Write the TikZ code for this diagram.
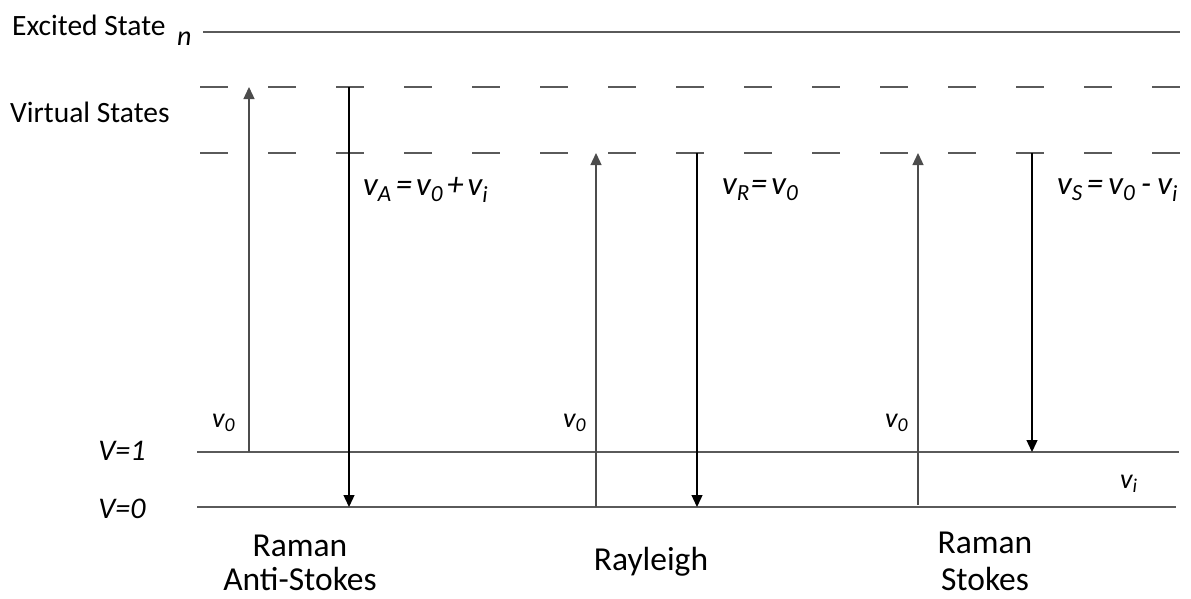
\documentclass[tikz,border=0pt]{standalone}
\usepackage{fontspec}
\setmainfont{Carlito}
\usetikzlibrary{arrows.meta, positioning}
\definecolor{levelGray}{HTML}{5A5A5A}
\colorlet{upGray}{black!70}
\newcommand{\opsp}[1]{\hspace{#1pt}}

\tikzset{
  level/.style={levelGray, line width=1.6pt},
  vlevel/.style={levelGray, line width=1.6pt, dash pattern=on 28pt off 40pt},
  photon/.style={-{Triangle[width=11pt, length=12pt]}, line width=1.3pt},
  lbl/.style={font=\fontsize{29.5}{34}\selectfont, inner sep=0pt},
  bigLbl/.style={font=\fontsize{33.5}{38}\selectfont, inner sep=0pt},
  sym/.style={font=\fontsize{33}{36}\selectfont\itshape, inner sep=0pt},
  symSmall/.style={font=\fontsize{28}{32}\selectfont\itshape, inner sep=0pt}
}

\begin{document}
\begin{tikzpicture}[x=1pt, y=-1pt]
  \useasboundingbox (0,0) rectangle (1191,598);
  % energy levels
  \draw[level]  (203,32)  coordinate (exL)  -- (1180,32)  coordinate (exR);
  \draw[vlevel] (200,87)  coordinate (vtL)  -- (1180,87)  coordinate (vtR);
  \draw[vlevel] (200,153) coordinate (vbL)  -- (1180,153) coordinate (vbR);
  \draw[level]  (197,452) coordinate (oneL) -- (1179,452) coordinate (oneR);
  \draw[level]  (197,507) coordinate (zeroL) -- (1176,507) coordinate (zeroR);
  % level labels
  \node[lbl, anchor=base west] (excited) at (12,35) {Excited State};
  \node[symSmall, anchor=base west] (nlbl) at (177,45) {n};
  \node[lbl, anchor=base west] (virtual) at (10,122) {Virtual States};
  \node[sym, font=\fontsize{30}{34}\selectfont\itshape, anchor=base] (vone) at (122,460) {V=1};
  \node[sym, font=\fontsize{30}{34}\selectfont\itshape, anchor=base] (vzero) at (122,518) {V=0};
  % transitions
  \foreach \nm/\x/\ya/\yb/\c in {asIn/249/452/87/upGray, asOut/349/87/507/black,
      rlIn/596/507/153/upGray, rlOut/697/153/507/black,
      stIn/918/505/153/upGray, stOut/1032/153/452/black} {
    \coordinate (\nm-a) at (\x,\ya);
    \coordinate (\nm-b) at (\x,\yb);
    \draw[photon, \c] (\nm-a) -- (\nm-b);
  }
  % frequencies
  \foreach \nm/\x in {asNu/212, rlNu/563, stNu/885}
    \node[symSmall, anchor=base west] (\nm) at (\x,427) {v\textsubscript{0}};
  \node[sym, anchor=base west] (nuA) at (363,195)
    {v\textsubscript{A}\opsp{4}=\opsp{4}v\textsubscript{0}\opsp{4}+\opsp{4}v\textsubscript{i}};
  \node[sym, anchor=base west] (nuR) at (722,194)
    {v\textsubscript{R}\opsp{1}=\opsp{4}v\textsubscript{0}};
  \node[sym, anchor=base west] (nuS) at (1057,194)
    {v\textsubscript{S}\opsp{4}=\opsp{5}v\textsubscript{0}\opsp{6}-\opsp{6}v\textsubscript{i}};
  \node[symSmall, anchor=base west] (nuI) at (1120,488) {v\textsubscript{i}};
  % process names
  \node[bigLbl, anchor=base] (ramanA) at (300,556) {Raman};
  \node[bigLbl, anchor=base] (antiS) at ([yshift=-34pt]ramanA.base) {Anti-Stokes};
  \node[bigLbl, anchor=base] (rayleigh) at (651,570) {Rayleigh};
  \node[bigLbl, anchor=base] (ramanS) at (985,553) {Raman};
  \node[bigLbl, anchor=base] (stokes) at ([yshift=-37pt]ramanS.base) {Stokes};
\end{tikzpicture}
\end{document}
